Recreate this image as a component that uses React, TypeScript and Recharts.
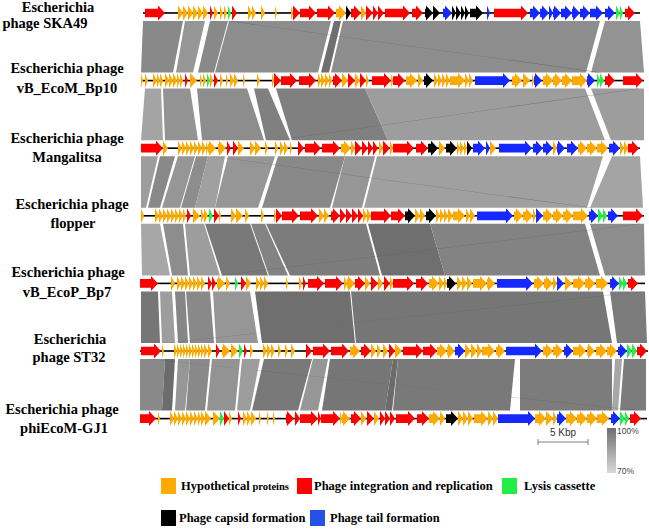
import { ComposedChart, XAxis, YAxis, ReferenceArea, Scatter } from 'recharts'

// gene = [start kb, end kb, category]
// H hypothetical, R integration/replication, L lysis, C capsid, T tail
type Gene = [number, number, string]
// link = [top start, top end, bottom start, bottom end, identity %]
type Link = [number, number, number, number, number]

const trackNames = [
  ['Escherichia', 'phage SKA49'],
  ['Escherichia phage', 'vB_EcoM_Bp10'],
  ['Escherichia phage', 'Mangalitsa'],
  ['Escherichia phage', 'flopper'],
  ['Escherichia phage', 'vB_EcoP_Bp7'],
  ['Escherichia', 'phage ST32'],
  ['Escherichia phage', 'phiEcoM-GJ1'],
]

const backbones: [number, number][] = [
  [0.3, 50.0], [0.1, 50.4], [0.1, 50.0], [0.1, 50.4], [0.0, 50.5], [0.0, 50.8], [0.0, 50.7],
]

const ska49: Gene[] = [
  [0.5, 2.5, 'R'], [3.8, 4.3, 'H'], [4.3, 4.8, 'H'], [4.8, 5.3, 'H'], [5.3, 5.8, 'H'], [5.8, 6.3, 'H'], [6.3, 6.8, 'H'],
  [7.0, 7.3, 'R'], [7.4, 7.8, 'H'], [8.0, 8.3, 'H'], [8.4, 8.7, 'H'], [8.8, 9.1, 'L'], [9.2, 9.7, 'R'],
  [10.8, 11.2, 'H'], [11.2, 11.6, 'H'], [12.1, 12.5, 'H'], [13.5, 13.7, 'H'], [15.1, 15.3, 'H'], [15.3, 16.0, 'R'],
  [16.0, 17.6, 'R'], [17.7, 19.5, 'R'], [19.6, 20.6, 'H'], [20.6, 21.1, 'C'], [21.1, 22.1, 'R'], [22.1, 22.6, 'H'],
  [22.6, 23.3, 'R'], [23.3, 23.8, 'R'], [23.8, 24.4, 'R'], [24.5, 27.0, 'R'], [27.2, 28.3, 'R'], [28.5, 29.3, 'C'],
  [29.3, 30.0, 'C'], [30.3, 31.2, 'T'], [31.2, 31.6, 'C'], [31.6, 32.1, 'C'], [32.1, 32.5, 'C'], [32.5, 32.9, 'C'],
  [33.0, 34.3, 'C'], [34.7, 35.0, 'T'], [35.4, 38.8, 'R'], [39.0, 40.0, 'T'], [40.0, 40.9, 'T'], [40.9, 41.3, 'T'],
  [41.3, 42.1, 'T'], [42.1, 43.2, 'T'], [43.2, 44.0, 'T'], [44.0, 45.0, 'T'], [45.0, 46.3, 'T'], [46.5, 47.5, 'T'],
  [47.6, 48.0, 'L'], [48.0, 48.3, 'L'], [48.5, 49.5, 'R'],
]

const bp10: Gene[] = [
  [0.1, 0.3, 'H'], [0.5, 0.8, 'H'], [1.3, 1.7, 'H'], [1.7, 2.0, 'H'], [2.0, 2.3, 'H'], [2.5, 2.9, 'H'], [2.9, 3.3, 'H'],
  [3.3, 3.7, 'H'], [3.7, 4.0, 'H'], [4.0, 4.3, 'H'], [4.5, 4.8, 'R'], [5.0, 5.7, 'H'], [6.0, 6.2, 'H'], [6.3, 6.6, 'H'],
  [6.7, 7.0, 'L'], [7.0, 7.3, 'H'], [7.4, 7.8, 'R'], [8.0, 8.3, 'H'], [8.6, 8.8, 'H'], [9.0, 9.4, 'H'], [9.4, 9.8, 'H'],
  [10.3, 10.5, 'H'], [11.7, 12.0, 'H'], [13.2, 13.4, 'H'], [13.4, 14.1, 'R'], [14.1, 15.7, 'R'], [15.9, 17.6, 'R'],
  [17.8, 18.1, 'H'], [18.1, 18.5, 'H'], [18.5, 18.9, 'H'], [18.9, 19.2, 'H'], [19.3, 20.2, 'R'], [20.2, 20.8, 'H'],
  [20.8, 21.5, 'R'], [21.5, 22.0, 'H'], [22.0, 22.6, 'R'], [22.6, 22.9, 'H'], [23.2, 25.1, 'R'], [25.1, 25.3, 'H'],
  [25.3, 26.5, 'R'], [26.6, 27.7, 'H'], [27.8, 28.3, 'H'], [28.4, 29.3, 'C'], [29.4, 29.8, 'H'], [29.8, 30.2, 'H'],
  [30.2, 30.6, 'H'], [30.6, 31.0, 'H'], [31.0, 32.5, 'H'], [32.5, 32.9, 'H'], [32.9, 33.3, 'H'], [33.5, 37.0, 'T'],
  [37.2, 38.2, 'H'], [38.3, 39.0, 'H'], [39.2, 39.4, 'H'], [39.4, 40.2, 'T'], [40.3, 41.3, 'H'], [41.3, 42.2, 'H'],
  [42.2, 43.2, 'H'], [43.2, 44.7, 'H'], [44.7, 45.5, 'T'], [45.7, 46.0, 'L'], [46.0, 46.4, 'L'], [46.5, 47.5, 'R'],
  [48.3, 50.3, 'R'],
]

const mangalitsa: Gene[] = [
  [0.1, 2.3, 'R'], [2.3, 2.8, 'H'], [3.8, 4.2, 'H'], [4.2, 4.6, 'H'], [4.6, 5.0, 'H'], [5.0, 5.4, 'H'], [5.4, 5.8, 'H'],
  [5.8, 6.2, 'H'], [6.2, 6.6, 'H'], [6.6, 6.8, 'H'], [6.8, 7.6, 'H'], [7.8, 8.6, 'H'], [8.7, 9.1, 'R'], [9.3, 9.8, 'R'],
  [9.8, 10.4, 'H'], [11.0, 11.5, 'H'], [11.5, 12.1, 'H'], [12.5, 12.8, 'H'], [13.5, 13.8, 'H'], [14.0, 14.4, 'H'],
  [14.4, 14.8, 'H'], [15.0, 15.2, 'H'], [15.8, 16.4, 'R'], [16.5, 18.1, 'R'], [18.2, 20.0, 'R'], [20.1, 21.1, 'H'],
  [21.1, 21.5, 'H'], [21.5, 22.2, 'R'], [22.2, 22.8, 'R'], [22.8, 23.3, 'R'], [23.3, 23.8, 'R'], [23.9, 24.3, 'H'],
  [24.3, 25.0, 'R'], [25.0, 25.3, 'H'], [25.3, 27.4, 'R'], [27.6, 28.8, 'R'], [28.8, 29.8, 'C'], [29.9, 30.5, 'H'],
  [30.6, 31.7, 'C'], [31.7, 32.0, 'H'], [32.0, 32.4, 'H'], [32.4, 32.7, 'H'], [32.7, 33.2, 'C'], [33.3, 34.5, 'T'],
  [34.6, 35.0, 'T'], [35.0, 35.6, 'H'], [35.9, 39.2, 'T'], [39.3, 40.3, 'T'], [40.3, 41.3, 'T'], [41.3, 41.7, 'H'],
  [41.7, 42.5, 'T'], [42.7, 43.8, 'T'], [43.8, 44.7, 'H'], [44.7, 45.7, 'H'], [45.7, 46.8, 'H'], [46.9, 48.0, 'T'],
  [48.0, 48.4, 'H'], [48.4, 48.8, 'H'], [48.8, 49.9, 'R'],
]

const flopper: Gene[] = [
  [0.1, 0.4, 'H'], [1.5, 1.9, 'H'], [1.9, 2.3, 'H'], [2.3, 2.7, 'H'], [2.7, 3.1, 'H'], [3.1, 3.5, 'H'], [3.5, 3.9, 'H'],
  [3.9, 4.3, 'H'], [4.3, 4.6, 'H'], [4.7, 5.1, 'R'], [5.3, 6.0, 'H'], [6.1, 6.4, 'H'], [6.4, 6.8, 'H'], [6.9, 7.3, 'L'],
  [7.4, 7.9, 'R'], [7.9, 8.1, 'H'], [9.1, 9.6, 'H'], [9.6, 10.3, 'H'], [10.5, 10.9, 'H'], [12.1, 12.4, 'H'],
  [13.4, 13.6, 'H'], [13.6, 14.2, 'R'], [14.2, 15.9, 'R'], [16.0, 17.8, 'R'], [17.9, 18.4, 'H'], [18.4, 18.9, 'H'],
  [19.1, 20.0, 'R'], [20.0, 20.6, 'R'], [20.6, 21.2, 'R'], [21.2, 21.8, 'R'], [21.8, 22.3, 'R'], [22.3, 22.7, 'H'],
  [22.7, 23.1, 'H'], [23.1, 25.1, 'R'], [25.1, 26.5, 'R'], [26.5, 27.5, 'C'], [27.5, 28.0, 'H'], [28.0, 28.5, 'H'],
  [28.6, 29.6, 'C'], [29.6, 30.0, 'H'], [30.0, 30.4, 'H'], [30.4, 30.8, 'H'], [30.8, 31.3, 'H'], [31.3, 32.5, 'H'],
  [32.6, 33.0, 'H'], [33.0, 33.5, 'H'], [33.7, 37.3, 'T'], [37.4, 38.3, 'H'], [38.3, 39.3, 'H'], [39.3, 39.6, 'H'],
  [39.6, 40.3, 'T'], [40.3, 41.3, 'H'], [41.3, 42.3, 'H'], [42.3, 43.3, 'H'], [43.3, 44.8, 'H'], [44.9, 45.8, 'T'],
  [45.8, 46.3, 'L'], [46.3, 46.7, 'L'], [46.8, 47.8, 'T'], [48.3, 50.3, 'R'],
]

const bp7: Gene[] = [
  [0.0, 1.8, 'R'], [3.1, 3.5, 'H'], [3.7, 4.1, 'H'], [4.1, 4.5, 'H'], [4.5, 4.9, 'H'], [4.9, 5.3, 'H'], [5.3, 5.7, 'H'],
  [5.7, 6.1, 'H'], [6.1, 6.5, 'H'], [6.8, 7.2, 'R'], [7.2, 7.6, 'R'], [7.7, 8.5, 'H'], [8.6, 9.0, 'H'], [9.5, 9.8, 'L'],
  [10.1, 10.6, 'R'], [10.6, 11.1, 'H'], [11.6, 12.0, 'H'], [12.0, 12.4, 'H'], [12.4, 12.8, 'H'], [14.6, 14.8, 'H'],
  [15.9, 16.2, 'H'], [16.3, 16.6, 'R'], [16.8, 18.4, 'R'], [18.5, 20.3, 'R'], [20.4, 20.7, 'H'], [20.7, 21.5, 'H'],
  [21.5, 22.5, 'R'], [22.5, 23.0, 'H'], [23.1, 23.8, 'R'], [23.8, 24.3, 'H'], [24.4, 25.0, 'R'], [25.0, 25.3, 'H'],
  [25.3, 27.4, 'R'], [27.6, 28.8, 'R'], [28.9, 29.9, 'H'], [29.9, 30.4, 'H'], [30.4, 30.7, 'H'], [30.7, 31.6, 'C'],
  [31.7, 32.2, 'H'], [32.2, 32.7, 'H'], [32.7, 33.2, 'H'], [33.3, 34.7, 'H'], [34.7, 35.5, 'H'], [35.7, 39.3, 'T'],
  [39.4, 40.4, 'H'], [40.4, 41.3, 'H'], [41.3, 41.7, 'H'], [41.7, 42.4, 'T'], [42.5, 43.2, 'H'], [43.3, 44.5, 'H'],
  [44.5, 45.5, 'H'], [45.6, 46.8, 'H'], [47.0, 47.9, 'T'], [47.9, 48.3, 'L'], [48.3, 48.7, 'L'], [48.8, 49.8, 'R'],
]

const st32: Gene[] = [
  [0.1, 2.1, 'R'], [2.2, 2.4, 'H'], [3.4, 3.7, 'H'], [3.7, 4.0, 'H'], [4.0, 4.3, 'H'], [4.3, 4.6, 'H'], [4.6, 4.9, 'H'],
  [4.9, 5.2, 'H'], [5.2, 5.5, 'H'], [5.5, 5.8, 'H'], [5.8, 6.1, 'H'], [6.1, 6.4, 'H'], [6.4, 6.8, 'H'], [6.8, 7.2, 'H'],
  [7.6, 8.0, 'R'], [8.2, 9.0, 'H'], [9.1, 9.8, 'H'], [9.9, 10.3, 'L'], [10.4, 10.7, 'R'], [11.0, 11.3, 'H'],
  [12.3, 12.7, 'H'], [12.7, 13.1, 'H'], [13.1, 13.5, 'H'], [13.8, 14.1, 'H'], [14.5, 14.8, 'H'], [15.1, 15.5, 'H'],
  [16.6, 17.2, 'R'], [17.3, 19.0, 'R'], [19.1, 20.9, 'R'], [21.0, 22.0, 'H'], [22.1, 23.1, 'R'], [23.1, 23.6, 'H'],
  [23.7, 24.1, 'H'], [24.3, 24.8, 'H'], [24.9, 25.5, 'R'], [25.5, 26.2, 'H'], [26.3, 28.3, 'R'], [28.3, 29.7, 'R'],
  [29.7, 30.7, 'H'], [30.7, 31.5, 'H'], [31.5, 32.5, 'T'], [32.5, 33.1, 'H'], [33.1, 33.7, 'H'], [33.7, 34.2, 'H'],
  [34.2, 35.5, 'H'], [35.6, 36.5, 'H'], [36.6, 40.2, 'T'], [40.3, 41.3, 'H'], [41.3, 42.3, 'H'], [42.4, 43.3, 'T'],
  [43.3, 44.6, 'H'], [44.7, 45.5, 'H'], [45.6, 46.7, 'H'], [46.7, 47.7, 'H'], [47.8, 48.7, 'T'], [48.7, 49.2, 'L'],
  [49.2, 49.7, 'L'], [49.7, 50.7, 'R'],
]

const gj1: Gene[] = [
  [0.0, 1.6, 'R'], [1.8, 2.0, 'H'], [3.0, 3.4, 'H'], [3.4, 3.8, 'H'], [3.8, 4.2, 'H'], [4.2, 4.6, 'H'], [4.6, 5.0, 'H'],
  [5.0, 5.4, 'H'], [5.4, 5.8, 'H'], [5.8, 6.1, 'H'], [6.1, 6.5, 'H'], [6.5, 7.1, 'H'], [7.3, 8.0, 'H'], [8.0, 8.4, 'L'],
  [8.4, 8.9, 'R'], [8.9, 9.2, 'H'], [9.8, 10.1, 'R'], [10.3, 10.7, 'H'], [10.7, 11.1, 'H'], [11.1, 11.6, 'H'],
  [11.9, 12.1, 'H'], [12.7, 12.9, 'H'], [13.3, 13.5, 'H'], [14.6, 15.4, 'R'], [15.5, 16.0, 'R'], [16.0, 17.8, 'R'],
  [17.8, 18.1, 'R'], [18.1, 20.0, 'R'], [20.0, 20.2, 'H'], [20.2, 21.0, 'H'], [21.1, 22.1, 'R'], [22.1, 22.6, 'H'],
  [22.7, 23.4, 'R'], [23.4, 23.9, 'H'], [24.0, 24.5, 'R'], [24.5, 25.0, 'R'], [25.0, 25.5, 'R'], [25.6, 27.5, 'R'],
  [27.7, 28.9, 'R'], [28.9, 30.0, 'H'], [30.0, 30.5, 'H'], [30.6, 31.8, 'C'], [31.8, 32.3, 'H'], [32.3, 32.8, 'H'],
  [32.8, 33.3, 'H'], [33.4, 34.8, 'H'], [34.8, 35.3, 'H'], [35.3, 35.8, 'H'], [35.8, 39.5, 'T'], [39.5, 40.6, 'H'],
  [40.6, 41.3, 'H'], [41.3, 41.7, 'H'], [41.7, 42.6, 'T'], [42.6, 43.7, 'H'], [43.7, 44.7, 'H'], [44.7, 45.7, 'H'],
  [45.7, 46.9, 'H'], [47.1, 48.0, 'T'], [48.0, 48.5, 'L'], [48.5, 48.9, 'L'], [49.0, 50.1, 'R'],
]

const tracks = [ska49, bp10, mangalitsa, flopper, bp7, st32, gj1]

const links: Link[][] = [
  [[0.3, 4.3, 0.1, 3.3, 91], [4.5, 6.5, 3.6, 5.3, 87], [7.0, 8.8, 5.8, 7.4, 91], [8.9, 19.1, 7.5, 17.8, 90],
   [19.4, 20.1, 18.1, 18.9, 99], [20.3, 46.0, 19.1, 44.6, 90], [46.5, 50.0, 45.1, 50.4, 88]],
  [[0.5, 2.1, 0.1, 2.3, 83], [2.3, 5.0, 2.5, 5.8, 88], [5.7, 10.7, 6.2, 12.4, 90], [11.4, 12.8, 12.6, 15.0, 94],
   [13.6, 22.5, 15.2, 24.8, 94], [22.5, 44.5, 24.8, 46.5, 85], [45.1, 50.4, 47.1, 50.4, 85]],
  [[0.1, 1.8, 0.1, 0.6, 85], [2.0, 3.5, 0.8, 2.0, 91], [3.8, 5.5, 2.2, 4.0, 87], [5.6, 6.8, 4.1, 5.5, 90],
   [6.8, 8.5, 5.5, 7.5, 84], [8.8, 13.5, 7.5, 11.8, 87], [13.8, 20.5, 12.2, 19.0, 91], [20.5, 23.5, 19.2, 22.2, 87],
   [23.7, 46.3, 22.4, 44.7, 84], [47.2, 50.0, 45.0, 50.3, 83]],
  [[0.1, 2.0, 0.2, 3.0, 82], [2.3, 4.3, 3.2, 4.8, 90], [4.5, 6.4, 5.0, 8.0, 85], [6.5, 11.0, 8.2, 12.8, 96],
   [11.1, 12.5, 12.9, 14.8, 93], [12.6, 22.6, 15.0, 24.0, 95], [22.8, 29.0, 24.2, 30.5, 99], [29.0, 44.5, 30.5, 46.0, 93],
   [45.0, 50.4, 46.5, 50.5, 90]],
  [[0.1, 1.8, 0.1, 2.0, 97], [2.0, 3.2, 2.2, 3.5, 85], [3.5, 4.5, 3.8, 4.8, 92], [4.6, 7.0, 5.0, 7.4, 91],
   [7.3, 11.0, 7.6, 11.8, 87], [11.5, 21.0, 12.2, 21.5, 99], [21.1, 46.3, 21.6, 47.2, 97], [47.0, 50.5, 47.7, 50.7, 95]],
  [[0.0, 2.5, 0.0, 2.2, 91], [2.5, 3.5, 2.2, 3.2, 100], [3.8, 5.0, 3.5, 4.5, 87], [5.0, 7.0, 4.6, 6.5, 91],
   [7.2, 10.0, 6.7, 9.5, 88], [10.2, 12.0, 9.7, 11.0, 85], [12.4, 17.2, 11.2, 15.8, 96], [17.3, 18.8, 16.0, 17.8, 87],
   [19.0, 25.3, 18.2, 24.5, 97], [25.3, 25.8, 24.5, 25.2, 100], [25.8, 37.5, 25.3, 37.0, 96], [38.0, 47.2, 38.0, 47.2, 95],
   [47.5, 48.2, 47.2, 47.8, 82], [48.4, 50.6, 48.0, 50.6, 95]],
]

// thin crossing matches, one per gap
const crossLinks: [number, number, number, number][] = [
  [8.8, 9.1, 45.8, 46.1], [49.8, 50.0, 13.6, 13.8], [7.1, 7.3, 45.0, 45.2],
  [49.9, 50.1, 8.0, 8.2], [50.3, 50.5, 2.5, 2.7], [0.8, 1.0, 49.8, 50.0],
]

const scaleBar = [39.8, 44.8]
const scaleBarY = 6.346

const geneColors: Record<string, string> = { H: '#FFAA00', R: '#FF0000', L: '#22EE44', C: '#000000', T: '#1428FF' }
const legendLabels = ['Hypothetical', 'Phage integration and replication', 'Lysis cassette', 'Phage capsid formation', 'Phage tail formation']
const legendKeys = ['H', 'R', 'L', 'C', 'T']

const PX = 67.6 // px per track on the y scale
const GENE_H = 7.5 / PX
const BAND = 8 / PX
const SERIF = "'Times New Roman', 'Liberation Serif', serif"

const labelX = [[58, 45], [67, 67], [67, 67], [72, 73], [68, 67], [70, 69], [62, 64]]
const labelDy = [[-0.5, 15.5], [-8, 12], [-5.5, 13.5], [-6.5, 12.5], [-6.5, 13.5], [-6.5, 11.5], [-5, 14]]

function identityGray(id: number) {
  const v = Math.round(108 + ((100 - id) * 98) / 30)
  return `rgb(${v},${v},${v})`
}

function linkShape(b: number[], fill: string, opacity = 1) {
  return (p: any) => {
    const lo = Math.min(b[0], b[2])
    const hi = Math.max(b[1], b[3])
    const k = p.width / (hi - lo)
    const X = (v: number) => p.x + (v - lo) * k
    const top = p.y
    const bot = p.y + p.height
    return (
      <polygon
        points={`${X(b[0])},${top} ${X(b[1])},${top} ${X(b[3])},${bot} ${X(b[2])},${bot}`}
        fill={fill}
        fillOpacity={opacity}
      />
    )
  }
}

function geneShape(color: string) {
  return (p: any) => {
    const { x, y, width, height } = p
    const mid = y + height / 2
    const head = Math.min(width, 7)
    const body = height * 0.58
    const bx = x + width - head
    const pts =
      width <= 7.5
        ? `${x},${y} ${x + width},${mid} ${x},${y + height}`
        : `${x},${mid - body / 2} ${bx},${mid - body / 2} ${bx},${y} ${x + width},${mid} ${bx},${y + height} ${bx},${mid + body / 2} ${x},${mid + body / 2}`
    return <polygon points={pts} fill={color} />
  }
}

function scaleShape(p: any) {
  const mid = p.y + p.height / 2
  const x2 = p.x + p.width
  return (
    <g stroke="#808080" strokeWidth={1}>
      <line x1={p.x} y1={mid} x2={x2} y2={mid} />
      <line x1={p.x} y1={mid - 3} x2={p.x} y2={mid + 3} />
      <line x1={x2} y1={mid - 3} x2={x2} y2={mid + 3} />
      <text x={p.x + p.width / 2} y={mid - 6} textAnchor="middle" stroke="none" fill="#333" fontSize={10} fontFamily="Arial, 'Liberation Sans', sans-serif">5 Kbp</text>
    </g>
  )
}

function TrackLabel(props: any) {
  const { y, payload } = props
  const i = payload.value as number
  return (
    <text fontFamily={SERIF} fontWeight="bold" fontSize={14.5} fill="#000" textAnchor="middle">
      {trackNames[i].map((line, k) => (
        <tspan key={k} x={labelX[i][k]} y={y + labelDy[i][k]}>{line}</tspan>
      ))}
    </text>
  )
}

const anchorPoints = backbones.map((b, i) => ({ x: b[0], y: i }))

export default function App() {
  const areas: any[] = []
  links.forEach((gap, g) => {
    gap.forEach((b, j) => {
      areas.push(
        <ReferenceArea key={`l${g}-${j}`} x1={Math.min(b[0], b[2])} x2={Math.max(b[1], b[3])}
          y1={g + BAND} y2={g + 1 - BAND} ifOverflow="visible" shape={linkShape(b, identityGray(b[4]))} />
      )
    })
    const c = crossLinks[g]
    areas.push(
      <ReferenceArea key={`c${g}`} x1={Math.min(c[0], c[2])} x2={Math.max(c[1], c[3])}
        y1={g + BAND} y2={g + 1 - BAND} ifOverflow="visible" shape={linkShape(c, '#5a5a5a', 0.75)} />
    )
  })
  backbones.forEach((b, i) => {
    areas.push(
      <ReferenceArea key={`b${i}`} x1={b[0]} x2={b[1]} y1={i - 0.012} y2={i + 0.012} ifOverflow="visible"
        shape={(p: any) => <rect x={p.x} y={p.y} width={p.width} height={Math.max(p.height, 1.6)} fill="#000" />} />
    )
  })
  tracks.forEach((genes, i) => {
    genes.forEach((g, j) => {
      areas.push(
        <ReferenceArea key={`g${i}-${j}`} x1={g[0]} x2={g[1]} y1={i - GENE_H} y2={i + GENE_H} ifOverflow="visible"
          shape={geneShape(geneColors[g[2]])} />
      )
    })
  })

  const legendPos = [
    { left: 161, top: 478, tx: 181 },
    { left: 297, top: 478, tx: 314 },
    { left: 502, top: 478, tx: 524 },
    { left: 161, top: 510, tx: 179 },
    { left: 310, top: 510, tx: 330 },
  ]

  return (
    <div style={{ position: 'absolute', left: 0, top: 0, width: 649, height: 529, background: '#fff' }}>
      <ComposedChart width={649} height={529} margin={{ top: 0, right: 1, bottom: 0, left: 0 }}>
        <XAxis type="number" dataKey="x" domain={[0, 50.8]} hide allowDataOverflow />
        <YAxis type="number" dataKey="y" domain={[-0.192, 7.633]} reversed allowDataOverflow width={140}
          ticks={[0, 1, 2, 3, 4, 5, 6]} interval={0} axisLine={false} tickLine={false} tick={<TrackLabel />} />
        <Scatter data={anchorPoints} isAnimationActive={false} shape={() => <g />} />
        {areas}
        <ReferenceArea x1={scaleBar[0]} x2={scaleBar[1]} y1={scaleBarY - 0.01} y2={scaleBarY + 0.01}
          ifOverflow="visible" shape={scaleShape} />
      </ComposedChart>
      {legendKeys.map((k, i) => (
        <div key={k}>
          <div style={{ position: 'absolute', left: legendPos[i].left, top: legendPos[i].top, width: 15, height: 16, background: k === 'T' ? '#2452E6' : geneColors[k] }} />
          <div style={{ position: 'absolute', left: legendPos[i].tx, top: legendPos[i].top - 1, fontFamily: SERIF, fontWeight: 'bold', fontSize: 12.5, whiteSpace: 'nowrap', lineHeight: '18px' }}>
            {legendLabels[i]}
            {k === 'H' && <span style={{ fontSize: 10.5 }}> proteins</span>}
          </div>
        </div>
      ))}
      <div style={{ position: 'absolute', left: 607, top: 428, width: 9, height: 45, background: 'linear-gradient(#6e6e6e, #d8d8d8)' }} />
      <div style={{ position: 'absolute', left: 617, top: 426, fontFamily: "Arial, 'Liberation Sans', sans-serif", fontSize: 8.5, color: '#444' }}>100%</div>
      <div style={{ position: 'absolute', left: 617, top: 466, fontFamily: "Arial, 'Liberation Sans', sans-serif", fontSize: 8.5, color: '#444' }}>70%</div>
    </div>
  )
}
